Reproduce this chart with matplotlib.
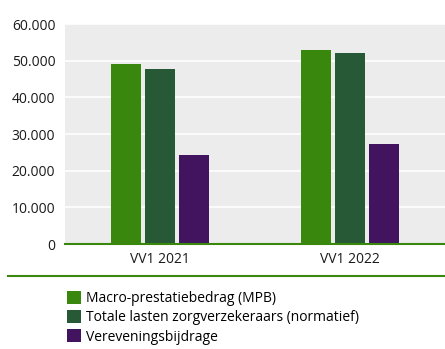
import matplotlib.pyplot as plt
from matplotlib.lines import Line2D
from matplotlib.patches import Patch
import numpy as np

plt.rcParams['font.family'] = ['Open Sans', 'DejaVu Sans']

# Data
categories = ['VV1 2021', 'VV1 2022']
series_names = ['Macro-prestatiebedrag (MPB)',
                'Totale lasten zorgverzekeraars (normatief)',
                'Vereveningsbijdrage']
mpb = [49100, 52900]
lasten = [47700, 52000]
verevening = [24300, 27200]
yticks = [0, 10000, 20000, 30000, 40000, 50000, 60000]
ytick_labels = ['0', '10.000', '20.000', '30.000', '40.000', '50.000', '60.000']

colors = ['#39870c', '#275937', '#42145f']
green = '#39870c'

fig = plt.figure(figsize=(4.45, 3.49), dpi=100)
ax = fig.add_axes([65 / 445, 1 - 244 / 349, 1 - 65 / 445, 220 / 349])
ax.set_facecolor('#ececec')

x = np.arange(len(categories))
width = 0.163
step = 0.179
for i, (vals, col) in enumerate(zip([mpb, lasten, verevening], colors)):
    ax.bar(x + (i - 1) * step, vals, width, color=col, zorder=3)

ax.set_xlim(-0.5, 1.5)
ax.set_ylim(0, 60000)
ax.set_yticks(yticks)
ax.set_yticklabels(ytick_labels)
ax.set_xticks(x)
ax.set_xticklabels(categories)
ax.tick_params(length=0, labelsize=10, colors='#1a1a1a')
ax.tick_params(axis='y', pad=7)
ax.tick_params(axis='x', pad=6)
ax.grid(axis='y', color='white', linewidth=1.2, zorder=0)
for s in ['top', 'right', 'left']:
    ax.spines[s].set_visible(False)
ax.spines['bottom'].set_color(green)
ax.spines['bottom'].set_linewidth(1.5)
ax.spines['bottom'].set_zorder(4)

# separator line
fig.add_artist(Line2D([8 / 445, 1], [1 - 275.5 / 349] * 2, color=green, linewidth=1.5))

handles = [Patch(facecolor=c) for c in colors]
fig.legend(handles, series_names, loc='upper left',
           bbox_to_anchor=(57 / 445, 1 - 281 / 349), frameon=False,
           fontsize=10, handlelength=1.05, handleheight=1.05,
           handletextpad=0.35, labelspacing=0.3, borderpad=0.2)

plt.savefig('out.png', dpi=100)
